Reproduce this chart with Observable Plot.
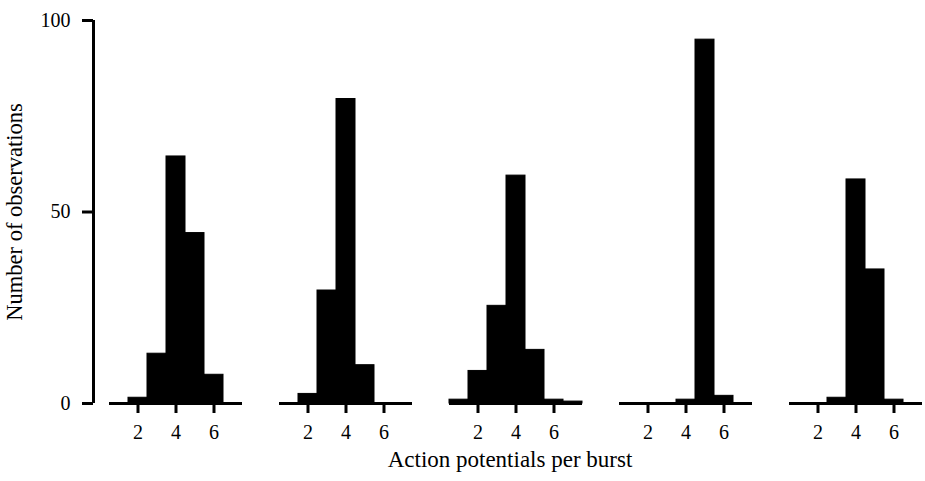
<!DOCTYPE html>
<html><head><meta charset="utf-8">
<script src="https://cdn.jsdelivr.net/npm/d3@7"></script>
<script src="https://cdn.jsdelivr.net/npm/@observablehq/plot@0.6"></script>
<style>html,body{margin:0;padding:0;background:#fff}</style>
</head><body><div id="chart"></div>
<script>
// Action potentials per burst (bin centres)
const spikes = [1, 2, 3, 4, 5, 6, 7];
// Number of observations for each of the five histograms
const cell1 = [0, 1.5, 13, 64.5, 44.5, 7.5, 0];
const cell2 = [0, 2.5, 29.5, 79.5, 10, 0, 0];
const cell3 = [1, 8.5, 25.5, 59.5, 14, 1, 0.5];
const cell4 = [0, 0, 0, 1, 95, 2, 0];
const cell5 = [0, 0, 1.5, 58.5, 35, 1, 0];
const cells = ["1", "2", "3", "4", "5"];
const xTicks = [2, 4, 6];
const yTicks = [0, 50, 100];
const xTitle = "Action potentials per burst";
const yTitle = "Number of observations";

const data = [];
[cell1, cell2, cell3, cell4, cell5].forEach((arr, i) =>
  arr.forEach((c, j) => data.push({cell: cells[i], spikes: spikes[j], count: c})));

const chart = Plot.plot({
  width: 925, height: 481,
  marginLeft: 108, marginRight: 2, marginTop: 20, marginBottom: 78,
  style: {fontFamily: "'Liberation Serif', 'DejaVu Serif', serif", fontSize: "20px", color: "#000", background: "#fff"},
  fx: {domain: cells, paddingInner: 0.22, paddingOuter: 0, axis: null},
  x: {domain: [0.5, 7.5]},
  y: {domain: [0, 100]},
  marks: [
    Plot.rect(data, {fx: "cell", x1: d => d.spikes - 0.5, x2: d => d.spikes + 0.5, y1: 0, y2: "count", fill: "#000", stroke: "#000", strokeWidth: 1}),
    Plot.ruleY([0], {strokeWidth: 3}),
    Plot.ruleX([0.5], {y1: 0, y2: 100, dx: -16, strokeWidth: 3, facetAnchor: "left"}),
    Plot.axisY({ticks: yTicks, tickFormat: d3.format("d"), tickSize: 11, tickPadding: 12, strokeWidth: 3, dx: -16, label: null}),
    Plot.axisX({ticks: xTicks, tickFormat: d3.format("d"), tickSize: 10, tickPadding: 11, strokeWidth: 3, label: null}),
    Plot.text([yTitle], {frameAnchor: "left", textAnchor: "middle", rotate: -90, lineAnchor: "top", dx: -103, fontSize: 22.5, facet: "super"}),
    Plot.text([xTitle], {frameAnchor: "bottom", textAnchor: "middle", dy: 63, dx: -6, fontSize: 23, facet: "super"})
  ]
});
document.getElementById("chart").appendChild(chart);
</script>
</body></html>
